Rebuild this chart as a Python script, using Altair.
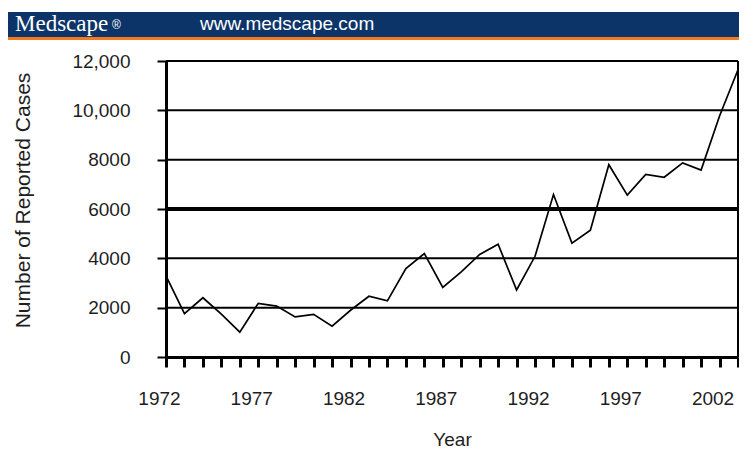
import altair as alt
import pandas as pd

years = list(range(1972, 2004))
cases = [3287, 1759, 2402, 1738, 1010, 2177, 2063, 1623, 1730, 1248,
         1895, 2463, 2276, 3589, 4195, 2823, 3450, 4157, 4570, 2719,
         4083, 6586, 4617, 5137, 7796, 6564, 7405, 7288, 7867, 7580,
         9771, 11647]
y_ticks = [0, 2000, 4000, 6000, 8000, 10000, 12000]
grid_thin = [2000, 4000, 8000, 10000, 12000]
grid_thick = [6000]

df = pd.DataFrame({"Year": years, "Cases": cases})
FONT = "Liberation Sans"
TXT = "#1e1e1e"

xscale = alt.Scale(domain=[1972, 2003], nice=False, zero=False)
yscale = alt.Scale(domain=[0, 12000], nice=False)

x_axis = alt.Axis(values=years, format="d", labelOverlap=False,
                  labelExpr="(datum.value - 1972) % 5 == 0 ? datum.label : ''",
                  title="Year", grid=False, domainColor="black", domainWidth=3,
                  tickColor="black", tickWidth=3, tickSize=10,
                  labelPadding=22, labelFontSize=19, labelFont=FONT, labelColor=TXT,
                  labelAlign="center", labelOffset=-7,
                  titleFont=FONT, titleFontSize=19, titleFontWeight="normal",
                  titleColor=TXT, titlePadding=22)
y_axis = alt.Axis(values=y_ticks, labelOverlap=False,
                  labelExpr="datum.value >= 10000 ? format(datum.value, ',') : format(datum.value, 'd')",
                  title="Number of Reported Cases", grid=False,
                  domainColor="black", domainWidth=3, tickColor="black",
                  tickWidth=2, tickSize=9, labelPadding=27, labelFontSize=19,
                  labelFont=FONT, labelColor=TXT, titleFont=FONT, titleFontSize=21,
                  titleFontWeight="normal", titleColor=TXT, titlePadding=38,
                  titleY=139)

line = alt.Chart(df).mark_line(color="black", strokeWidth=1.7).encode(
    x=alt.X("Year:Q", scale=xscale, axis=x_axis),
    y=alt.Y("Cases:Q", scale=yscale, axis=y_axis),
)

thin = alt.Chart(pd.DataFrame({"g": grid_thin})).mark_rule(color="black", strokeWidth=2).encode(
    y=alt.Y("g:Q", scale=yscale, axis=y_axis))
thick = alt.Chart(pd.DataFrame({"g": grid_thick})).mark_rule(color="black", strokeWidth=4).encode(
    y=alt.Y("g:Q", scale=yscale, axis=y_axis))
right = alt.Chart(pd.DataFrame({"x": [2003]})).mark_rule(color="black", strokeWidth=2).encode(
    x=alt.X("x:Q", scale=xscale, axis=x_axis))

hdr = alt.Chart(pd.DataFrame({"a": [0]}))
bar = hdr.mark_rect(color="#0c3469").encode(
    x=alt.value(-159), x2=alt.value(590), y=alt.value(-49), y2=alt.value(-24))
orange = hdr.mark_rect(color="#f47a20").encode(
    x=alt.value(-159), x2=alt.value(590), y=alt.value(-24), y2=alt.value(-21))
logo = hdr.mark_text(text="Medscape", font="Liberation Serif", fontSize=23, color="white",
                     align="left", baseline="alphabetic").encode(
    x=alt.value(-151), y=alt.value(-30))
reg = hdr.mark_text(text="®", font="Liberation Sans", fontSize=12, color="white",
                    align="left", baseline="alphabetic").encode(
    x=alt.value(-54), y=alt.value(-32))
url = hdr.mark_text(text="www.medscape.com", font="Liberation Sans", fontSize=19, color="white",
                    align="left", baseline="alphabetic").encode(
    x=alt.value(34), y=alt.value(-31))

chart = alt.layer(thin, thick, right, line, bar, orange, logo, reg, url).properties(
    width=572, height=296,
    autosize=alt.AutoSizeParams(type="none"),
    padding={"left": 158, "top": 53, "right": 1, "bottom": 95},
).configure_view(stroke=None).configure(background="white")

chart.save("out.html", embed_options={"renderer": "svg", "actions": False})
